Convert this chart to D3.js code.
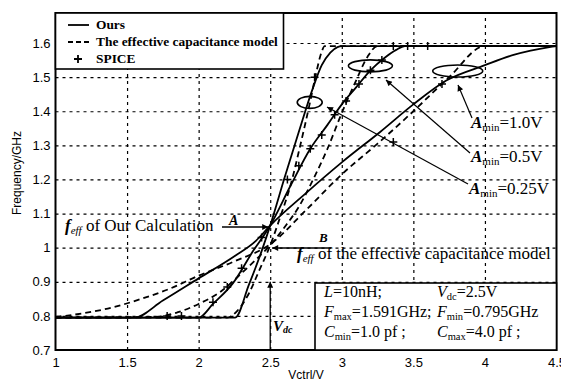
<!DOCTYPE html>
<html>
<head>
<meta charset="utf-8">
<script src="https://cdnjs.cloudflare.com/ajax/libs/d3/7.8.5/d3.min.js"></script>
<style>
  body { margin: 0; background: #fff; }
  svg { display: block; }
  .serif { font-family: "Liberation Serif", "Times New Roman", serif; }
  .sans { font-family: "Liberation Sans", Arial, sans-serif; }
</style>
</head>
<body>
<div id="chart"></div>
<script>
// axis ticks
var xTicks = [1, 1.5, 2, 2.5, 3, 3.5, 4, 4.5];
var xTickLabels = ["1", "1.5", "2", "2.5", "3", "3.5", "4", "4.5"];
var yTicks = [0.7, 0.8, 0.9, 1.0, 1.1, 1.2, 1.3, 1.4, 1.5, 1.6];
var yTickLabels = ["0.7", "0.8", "0.9", "1", "1.1", "1.2", "1.3", "1.4", "1.5", "1.6"];

// "Ours" curves, Amin = 0.25 / 0.5 / 1.0 V
var vOurs25 = [1.0, 2.255, 2.35, 2.44, 2.5, 2.6, 2.7, 2.8, 2.86, 2.92, 2.97, 3.0, 4.5];
var fOurs25 = [0.795, 0.795, 0.89, 0.99, 1.065, 1.205, 1.34, 1.47, 1.535, 1.572, 1.588, 1.591, 1.591];
var vOurs50 = [1.0, 2.0, 2.1, 2.24, 2.38, 2.5, 2.64, 2.78, 2.9, 3.0, 3.1, 3.2, 3.3, 3.38, 3.44, 4.5];
var fOurs50 = [0.795, 0.795, 0.835, 0.896, 0.99, 1.065, 1.18, 1.29, 1.36, 1.42, 1.47, 1.52, 1.557, 1.58, 1.591, 1.591];
var vOurs100 = [1.0, 1.55, 1.75, 2.0, 2.25, 2.4, 2.5, 2.75, 3.0, 3.27, 3.5, 3.73, 4.0, 4.2, 4.45, 4.5];
var fOurs100 = [0.795, 0.795, 0.845, 0.91, 0.975, 1.02, 1.065, 1.16, 1.25, 1.34, 1.42, 1.49, 1.535, 1.565, 1.588, 1.591];

// effective capacitance model curves
var vEff25 = [1.0, 2.2, 2.27, 2.35, 2.42, 2.5, 2.57, 2.64, 2.71, 2.78, 2.82, 2.86, 2.88, 4.5];
var fEff25 = [0.795, 0.795, 0.815, 0.865, 0.93, 1.007, 1.09, 1.18, 1.3, 1.43, 1.51, 1.575, 1.591, 1.591];
var vEff50 = [1.0, 1.7, 1.85, 2.0, 2.15, 2.3, 2.4, 2.5, 2.6, 2.7, 2.8, 2.9, 3.0, 3.1, 3.18, 3.25, 4.5];
var fEff50 = [0.795, 0.797, 0.81, 0.835, 0.87, 0.925, 0.965, 1.007, 1.06, 1.12, 1.2, 1.29, 1.395, 1.49, 1.56, 1.591, 1.591];
var vEff100 = [1.0, 1.2, 1.4, 1.6, 1.8, 2.0, 2.25, 2.5, 2.75, 3.0, 3.25, 3.5, 3.75, 4.0, 4.5];
var fEff100 = [0.797, 0.808, 0.825, 0.85, 0.88, 0.918, 0.96, 1.01, 1.11, 1.215, 1.305, 1.4, 1.5, 1.591, 1.591];

// SPICE points
var vSpice = [1.78, 1.88, 2.1, 2.2, 2.3, 2.44, 2.62, 2.7, 2.78, 2.86, 2.95, 3.03, 3.12, 3.2, 3.28, 3.36, 3.46, 3.6, 2.81, 3.7, 3.36];
var fSpice = [0.8, 0.8, 0.84, 0.885, 0.94, 1.03, 1.2, 1.24, 1.29, 1.33, 1.39, 1.43, 1.48, 1.52, 1.55, 1.591, 1.591, 1.591, 1.5, 1.48, 1.31];

// ellipses marking crossings (centre in data units)
var ellV = [2.776, 3.2, 3.81];
var ellF = [1.426, 1.533, 1.518];
var ellRx = [12.5, 22, 25];

var W = 561, H = 381;
var svg = d3.select("#chart").append("svg").attr("width", W).attr("height", H);

var x = d3.scaleLinear().domain([1, 4.5]).range([55.5, 556.5]);
var y = d3.scaleLinear().domain([0.7, 1.688]).range([350, 13]);

var defs = svg.append("defs");
defs.append("clipPath").attr("id", "clip")
  .append("rect").attr("x", x(1)).attr("y", y(1.688))
  .attr("width", x(4.5) - x(1)).attr("height", y(0.7) - y(1.688));
defs.append("marker").attr("id", "arr")
  .attr("viewBox", "0 0 10 10").attr("refX", 10).attr("refY", 5)
  .attr("markerWidth", 9).attr("markerHeight", 6).attr("markerUnits", "userSpaceOnUse")
  .attr("orient", "auto")
  .append("path").attr("d", "M0,0L10,5L0,10z").attr("fill", "#000");

// grid
svg.append("g")
  .attr("transform", "translate(0," + y(0.7) + ")")
  .call(d3.axisBottom(x).tickValues(xTicks.slice(1, -1)).tickSize(-(y(0.7) - y(1.688))).tickFormat(""))
  .call(function(g) {
    g.select(".domain").remove();
    g.selectAll("line").attr("stroke", "#000").attr("stroke-width", 1.2).attr("stroke-dasharray", "3,4");
  });
svg.append("g")
  .attr("transform", "translate(" + x(1) + ",0)")
  .call(d3.axisLeft(y).tickValues(yTicks.slice(1)).tickSize(-(x(4.5) - x(1))).tickFormat(""))
  .call(function(g) {
    g.select(".domain").remove();
    g.selectAll("line").attr("stroke", "#000").attr("stroke-width", 1.2).attr("stroke-dasharray", "3,4");
  });

// tick labels
svg.append("g")
  .attr("transform", "translate(0," + y(0.7) + ")")
  .call(d3.axisBottom(x).tickValues(xTicks).tickSize(0).tickPadding(8)
    .tickFormat(function(d, i) { return xTickLabels[i]; }))
  .call(function(g) {
    g.select(".domain").remove();
    g.selectAll("text").attr("class", "sans").attr("font-size", 13).attr("fill", "#000");
  });
svg.append("g")
  .attr("transform", "translate(" + x(1) + ",0)")
  .call(d3.axisLeft(y).tickValues(yTicks).tickSize(0).tickPadding(5)
    .tickFormat(function(d, i) { return yTickLabels[i]; }))
  .call(function(g) {
    g.select(".domain").remove();
    g.selectAll("text").attr("class", "sans").attr("font-size", 13).attr("fill", "#000");
  });

svg.append("text").attr("class", "sans").attr("font-size", 12)
  .attr("transform", "translate(21,173) rotate(-90)").attr("text-anchor", "middle")
  .text("Frequency/GHz");
svg.append("text").attr("class", "sans").attr("font-size", 12)
  .attr("x", 306).attr("y", 379).attr("text-anchor", "middle").text("Vctrl/V");

// curves
var plot = svg.append("g").attr("clip-path", "url(#clip)");
var line = d3.line().x(function(d) { return x(d[0]); }).y(function(d) { return y(d[1]); })
  .curve(d3.curveMonotoneX);
function zip(a, b) { return a.map(function(v, i) { return [v, b[i]]; }); }

[[vEff25, fEff25], [vEff50, fEff50], [vEff100, fEff100]].forEach(function(s) {
  plot.append("path").attr("d", line(zip(s[0], s[1])))
    .attr("fill", "none").attr("stroke", "#000").attr("stroke-width", 1.8).attr("stroke-dasharray", "6,4");
});
[[vOurs25, fOurs25], [vOurs50, fOurs50], [vOurs100, fOurs100]].forEach(function(s) {
  plot.append("path").attr("d", line(zip(s[0], s[1])))
    .attr("fill", "none").attr("stroke", "#000").attr("stroke-width", 1.8);
});

plot.selectAll(".spice").data(zip(vSpice, fSpice)).enter().append("path")
  .attr("d", function(d) {
    var px = x(d[0]), py = y(d[1]);
    return "M" + (px - 4) + "," + py + "H" + (px + 4) + "M" + px + "," + (py - 4) + "V" + (py + 4);
  })
  .attr("stroke", "#000").attr("stroke-width", 1.5);

plot.selectAll(".ell").data(ellV).enter().append("ellipse")
  .attr("cx", function(d) { return x(d); })
  .attr("cy", function(d, i) { return y(ellF[i]); })
  .attr("rx", function(d, i) { return ellRx[i]; })
  .attr("ry", 6)
  .attr("fill", "none").attr("stroke", "#000").attr("stroke-width", 1.6);

// frame
svg.append("rect").attr("x", x(1)).attr("y", y(1.688))
  .attr("width", x(4.5) - x(1)).attr("height", y(0.7) - y(1.688))
  .attr("fill", "none").attr("stroke", "#000").attr("stroke-width", 2);

// legend
var lg = svg.append("g");
lg.append("rect").attr("x", x(1)).attr("y", y(1.688)).attr("width", 228).attr("height", 56)
  .attr("fill", "#fff").attr("stroke", "#000").attr("stroke-width", 1.6);
lg.append("line").attr("x1", 68).attr("x2", 89).attr("y1", 25).attr("y2", 25)
  .attr("stroke", "#000").attr("stroke-width", 1.8);
lg.append("line").attr("x1", 68).attr("x2", 89).attr("y1", 42).attr("y2", 42)
  .attr("stroke", "#000").attr("stroke-width", 1.8).attr("stroke-dasharray", "5,3");
lg.append("path").attr("d", "M74,59H82M78,55V63").attr("stroke", "#000").attr("stroke-width", 1.8);
var legTexts = ["Ours", "The effective capacitance model", "SPICE"];
lg.selectAll(".lt").data(legTexts).enter().append("text")
  .attr("class", "serif").attr("font-size", 13.4).attr("font-weight", "bold")
  .attr("x", 96).attr("y", function(d, i) { return 29 + i * 17; }).text(function(d) { return d; });

// annotations
var ann = svg.append("g").attr("class", "serif");
function feff(t, xp, yp) {
  var tx = ann.append("text").attr("x", xp).attr("y", yp).attr("font-size", 17);
  tx.append("tspan").attr("font-style", "italic").attr("font-weight", "bold").text("f");
  tx.append("tspan").attr("font-style", "italic").attr("font-size", 11).attr("dy", 3).text("eff");
  tx.append("tspan").attr("dy", -3).text(" " + t);
}
feff("of Our Calculation", 65, 231);
feff("of the effective capacitance model", 297, 259);

ann.append("line").attr("x1", 222).attr("y1", 227).attr("x2", x(2.5) - 2).attr("y2", 227)
  .attr("stroke", "#000").attr("stroke-width", 1.3).attr("marker-end", "url(#arr)");
ann.append("text").attr("x", 229).attr("y", 225).attr("font-size", 14)
  .attr("font-style", "italic").attr("font-weight", "bold").text("A");
ann.append("line").attr("x1", 331).attr("y1", 248).attr("x2", x(2.5) + 2).attr("y2", 248)
  .attr("stroke", "#000").attr("stroke-width", 1.3).attr("marker-end", "url(#arr)");
ann.append("text").attr("x", 319).attr("y", 242).attr("font-size", 13)
  .attr("font-style", "italic").attr("font-weight", "bold").text("B");

ann.append("line").attr("x1", x(2.5)).attr("y1", y(0.7)).attr("x2", x(2.5)).attr("y2", y(0.9))
  .attr("stroke", "#000").attr("stroke-width", 1.3).attr("marker-end", "url(#arr)");
var vdc = ann.append("text").attr("x", 273).attr("y", 331).attr("font-size", 15)
  .attr("font-style", "italic").attr("font-weight", "bold");
vdc.append("tspan").text("V");
vdc.append("tspan").attr("font-size", 10).attr("dy", 2).text("dc");

// Amin labels and pointer lines
var aLab = ["=1.0V", "=0.5V", "=0.25V"];
var aLabX = [471, 471, 469];
var aLabY = [128, 162, 194];
var aFrom = [[472, 118], [470, 153], [468, 184]];
var aTo = [[458, 85], [386, 80], [327, 107]];
aTo.forEach(function(t, i) {
  ann.append("line").attr("x1", aFrom[i][0]).attr("y1", aFrom[i][1]).attr("x2", t[0]).attr("y2", t[1])
    .attr("stroke", "#000").attr("stroke-width", 1.2).attr("marker-end", "url(#arr)");
});
aLab.forEach(function(t, i) {
  var tx = ann.append("text").attr("x", aLabX[i]).attr("y", aLabY[i]).attr("font-size", 17);
  tx.append("tspan").attr("font-style", "italic").attr("font-weight", "bold").text("A");
  tx.append("tspan").attr("font-size", 11).attr("dy", 3).text("min");
  tx.append("tspan").attr("dy", -3).text(t);
});

// parameter box
var pb = svg.append("g").attr("class", "serif");
pb.append("rect").attr("x", 315).attr("y", 283).attr("width", x(4.5) - 315).attr("height", y(0.7) - 283)
  .attr("fill", "#fff").attr("stroke", "#000").attr("stroke-width", 1.6);
function param(xp, yp, sym, sub, rest) {
  var tx = pb.append("text").attr("x", xp).attr("y", yp).attr("font-size", 16);
  tx.append("tspan").attr("font-style", "italic").text(sym);
  if (sub) tx.append("tspan").attr("font-size", 10.5).attr("dy", 3).text(sub);
  tx.append("tspan").attr("dy", sub ? -3 : 0).text(rest);
}
param(324, 297, "L", "", "=10nH;");
param(437, 297, "V", "dc", "=2.5V");
param(324, 317, "F", "max", "=1.591GHz;");
param(437, 317, "F", "min", "=0.795GHz");
param(324, 337, "C", "min", "=1.0 pf ;");
param(437, 337, "C", "max", "=4.0 pf ;");
</script>
</body>
</html>
